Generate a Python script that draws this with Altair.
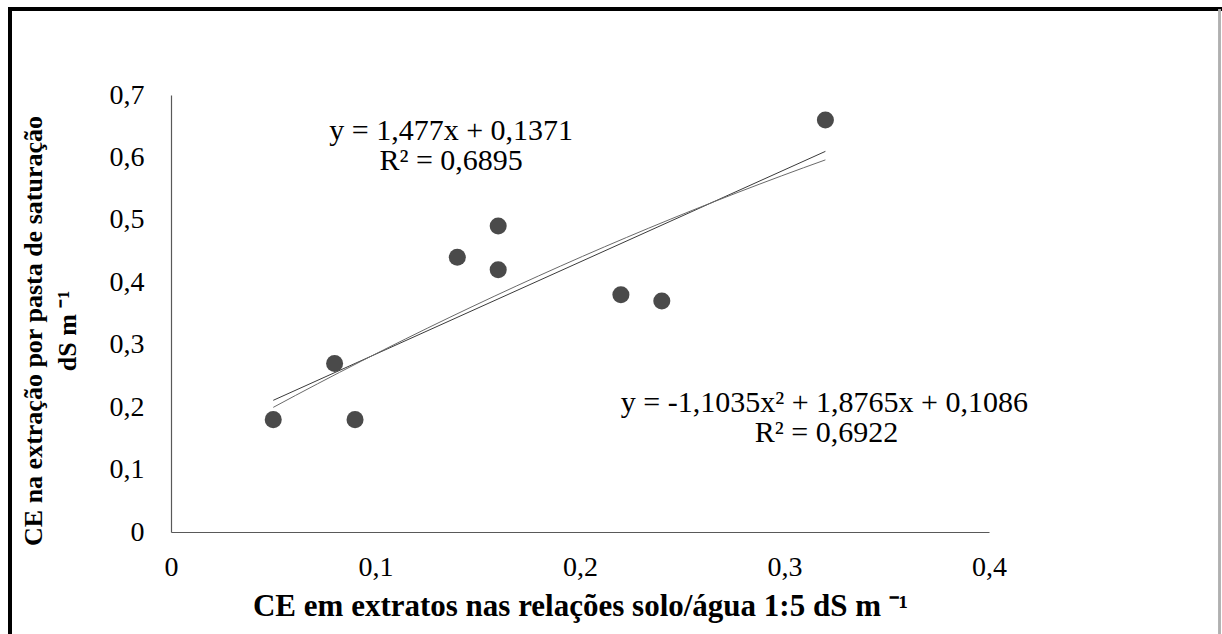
import altair as alt
import pandas as pd

# data
x_vals = [0.05, 0.08, 0.09, 0.14, 0.16, 0.16, 0.22, 0.24, 0.32]
y_vals = [0.18, 0.27, 0.18, 0.44, 0.49, 0.42, 0.38, 0.37, 0.66]
x_ticks = [0, 0.1, 0.2, 0.3, 0.4]
y_ticks = [0, 0.1, 0.2, 0.3, 0.4, 0.5, 0.6, 0.7]

eq_texts = ["y = 1,477x + 0,1371", "R² = 0,6895",
            "y = -1,1035x² + 1,8765x + 0,1086", "R² = 0,6922"]
eq_x = [0.137, 0.137, 0.3195, 0.3205]
eq_y = [0.643, 0.594, 0.2066, 0.158]

x_title = "CE em extratos nas relações solo/água 1:5 dS m ⁻¹"
y_title = ["CE na extração por pasta de saturação", "dS m ⁻¹"]

df = pd.DataFrame({"x": x_vals, "y": y_vals})
ann = pd.DataFrame({"t": eq_texts, "x": eq_x, "y": eq_y})

FONT = "Liberation Serif"
W, H = 818, 437

xs = alt.Scale(domain=[0, 0.4], nice=False, zero=False)
ys = alt.Scale(domain=[0, 0.7], nice=False, zero=False)

xaxis = alt.Axis(values=x_ticks, labelExpr="replace(format(datum.value, '.1~f'), '.', ',')",
                 ticks=False, grid=False, domainColor="#595959", domainWidth=1.2,
                 labelFont=FONT, labelFontSize=28, labelColor="#000000", labelPadding=21,
                 labelBaseline="top", labelFlush=False,
                 title=x_title, titleFont=FONT, titleFontSize=31, titleFontWeight="bold",
                 titleColor="#000000", titleY=83, titleBaseline="alphabetic")
yaxis = alt.Axis(values=y_ticks, labelExpr="replace(format(datum.value, '.1~f'), '.', ',')",
                 ticks=False, grid=False, domainColor="#595959", domainWidth=1.2,
                 labelFont=FONT, labelFontSize=28, labelColor="#000000", labelPadding=27,
                 labelFlush=False,
                 title=y_title, titleFont=FONT, titleFontSize=26, titleFontWeight="bold",
                 titleColor="#000000", titleX=-151, titleY=H / 2 + 17, titleAngle=270,
                 titleBaseline="top", titleLineHeight=34, titleAlign="center")

base = alt.Chart(df)

points = base.mark_circle(size=290, color="#4a4a4a", opacity=1).encode(
    x=alt.X("x:Q", scale=xs, axis=xaxis),
    y=alt.Y("y:Q", scale=ys, axis=yaxis),
)

lin = base.transform_regression("x", "y", method="linear").mark_line(
    color="#3a3a3a", strokeWidth=1).encode(x=alt.X("x:Q", scale=xs), y=alt.Y("y:Q", scale=ys))
poly = base.transform_regression("x", "y", method="poly", order=2).mark_line(
    color="#6a6a6a", strokeWidth=1).encode(x=alt.X("x:Q", scale=xs), y=alt.Y("y:Q", scale=ys))

texts = alt.Chart(ann).mark_text(font=FONT, fontSize=30, color="#000000",
                                 align="center", baseline="middle").encode(
    x=alt.X("x:Q", scale=xs), y=alt.Y("y:Q", scale=ys), text="t:N")

# outer frame (decoration)
frame_top = alt.Chart(df).mark_rule(color="#000000", strokeWidth=3).encode(
    x=alt.value(-163), x2=alt.value(1051), y=alt.value(-86))
frame_left = alt.Chart(df).mark_rule(color="#000000", strokeWidth=3).encode(
    x=alt.value(-161), y=alt.value(-87), y2=alt.value(545))
frame_right = alt.Chart(df).mark_rule(color="#b0b0b0", strokeWidth=1.5).encode(
    x=alt.value(1048.5), y=alt.value(-86), y2=alt.value(545))

chart = alt.layer(lin, poly, points, texts, frame_top, frame_left, frame_right).properties(
    width=W, height=H,
    autosize=alt.AutoSizeParams(type="none"),
    padding={"left": 171, "top": 95, "right": 233, "bottom": 102},
    background="#ffffff",
).configure_view(stroke=None)

chart.save("out.html", embed_options={"renderer": "svg", "actions": False})
